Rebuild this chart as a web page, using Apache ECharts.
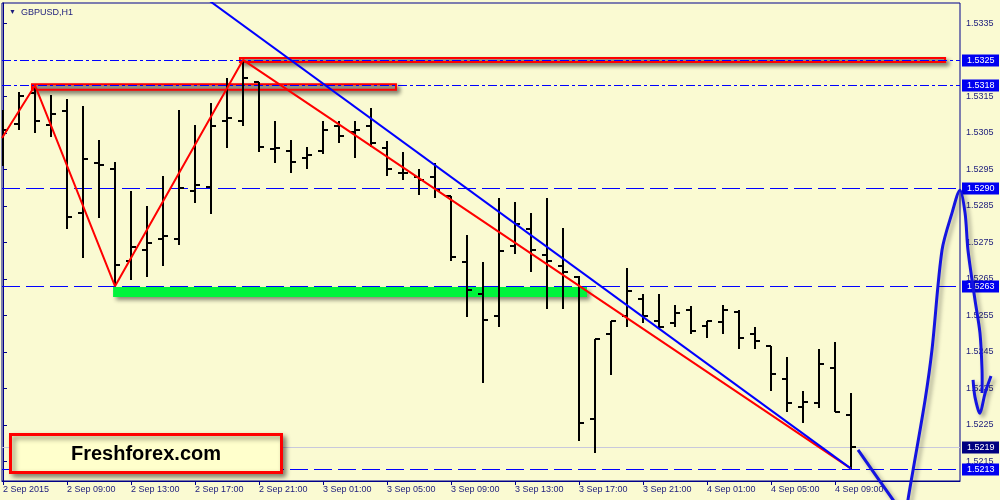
<!DOCTYPE html>
<html>
<head>
  <meta charset="utf-8">
</head>
<body style="margin: 0; background: #fafad2">
  <div id="container" style="width: 1000px; height: 500px"></div>

  <script type="text/javascript" src="https://cdn.jsdelivr.net/npm/echarts@6/dist/echarts.min.js"></script>

  <script type="text/javascript">
    // GBPUSD H1, one bar per hour from 2 Sep 05:00 (index 0) to 4 Sep 10:00 (index 53)
    var opens = [
      1.53031, 1.53075, 1.53160, 1.53072, 1.53110, 1.52830, 1.52967, 1.52951, 1.52699, 1.52729,
      1.52759, 1.52759, 1.52891, 1.52902, 1.53083, 1.53083, 1.53190, 1.53006, 1.53000, 1.52981,
      1.53000, 1.53069, 1.53052, 1.53069, 1.53009, 1.52940, 1.52929, 1.52929, 1.52877, 1.52696,
      1.52608, 1.52548, 1.52740, 1.52787, 1.52715, 1.52685, 1.52655, 1.52266, 1.52499, 1.52548,
      1.52595, 1.52534, 1.52529, 1.52565, 1.52521, 1.52532, 1.52559, 1.52499, 1.52466, 1.52376,
      1.52299, 1.52310, 1.52406, 1.52277
    ];
    var highs = [
      1.53113, 1.53162, 1.53180, 1.53154, 1.53143, 1.53124, 1.53031, 1.52970, 1.52891, 1.52850,
      1.52932, 1.53113, 1.53072, 1.53132, 1.53201, 1.53250, 1.53190, 1.53083, 1.53031, 1.53011,
      1.53083, 1.53083, 1.53083, 1.53118, 1.53028, 1.52998, 1.52951, 1.52967, 1.52877, 1.52770,
      1.52696, 1.52871, 1.52861, 1.52830, 1.52871, 1.52789, 1.52658, 1.52485, 1.52534, 1.52680,
      1.52608, 1.52608, 1.52578, 1.52576, 1.52534, 1.52578, 1.52565, 1.52518, 1.52466, 1.52436,
      1.52343, 1.52458, 1.52477, 1.52337
    ];
    var lows = [
      1.52959, 1.53058, 1.53050, 1.53039, 1.52787, 1.52707, 1.52817, 1.52630, 1.52647, 1.52655,
      1.52685, 1.52743, 1.52858, 1.52828, 1.53009, 1.53069, 1.52998, 1.52967, 1.52940, 1.52951,
      1.52992, 1.53022, 1.52981, 1.53011, 1.52932, 1.52921, 1.52880, 1.52871, 1.52699, 1.52545,
      1.52365, 1.52518, 1.52718, 1.52669, 1.52567, 1.52567, 1.52206, 1.52173, 1.52387, 1.52518,
      1.52529, 1.52515, 1.52518, 1.52499, 1.52488, 1.52499, 1.52458, 1.52458, 1.52343, 1.52285,
      1.52255, 1.52296, 1.52285, 1.52130
    ];
    var closes = [
      1.53058, 1.53151, 1.53083, 1.53102, 1.52819, 1.52978, 1.52962, 1.52688, 1.52737, 1.52748,
      1.52767, 1.52899, 1.52907, 1.53069, 1.53091, 1.53201, 1.53011, 1.53009, 1.52970, 1.52989,
      1.53058, 1.53042, 1.53058, 1.53022, 1.52951, 1.52940, 1.52921, 1.52893, 1.52710, 1.52619,
      1.52537, 1.52726, 1.52800, 1.52729, 1.52699, 1.52669, 1.52255, 1.52485, 1.52534, 1.52617,
      1.52548, 1.52518, 1.52556, 1.52507, 1.52534, 1.52565, 1.52488, 1.52480, 1.52389, 1.52310,
      1.52313, 1.52417, 1.52285, 1.52190
    ];

    var timeTicks = [0, 4, 8, 12, 16, 20, 24, 28, 32, 36, 40, 44, 48, 52];
    var timeLabels = [
      '2 Sep 2015', '2 Sep 09:00', '2 Sep 13:00', '2 Sep 17:00', '2 Sep 21:00',
      '3 Sep 01:00', '3 Sep 05:00', '3 Sep 09:00', '3 Sep 13:00', '3 Sep 17:00',
      '3 Sep 21:00', '4 Sep 01:00', '4 Sep 05:00', '4 Sep 09:00'
    ];
    var priceTicks = [
      1.5215, 1.5225, 1.5235, 1.5245, 1.5255, 1.5265, 1.5275,
      1.5285, 1.5295, 1.5305, 1.5315, 1.5325, 1.5335
    ];

    // horizontal levels drawn on the chart
    var dashDotLevels = [1.5325, 1.5318];
    var dashLevels = [1.5290, 1.5263, 1.5213];
    var bidPrice = 1.5219;

    // zones: [fromBar, toBar, upperPrice, lowerPrice]
    var resistanceZones = [
      [14.81, 58.88, 1.53255, 1.53244],
      [1.81, 24.56, 1.53183, 1.53168]
    ];
    var supportZone = [6.88, 36.5, 1.52628, 1.52600];

    // zigzag turning points (bar index) and trend line
    var zigzagStart = [-0.0625, 1.53036];
    var zigzagPivots = [2, 7, 15, 53];
    var trendLine = [[12, 1.53441], [53, 1.52130]];

    // hand-drawn forecast arrow (bar index, price)
    var forecastDown = [[53.44, 1.52181], [55.63, 1.52044], [56.25, 1.52006]];
    var forecastUp = [
      [56.45, 1.52006], [56.56, 1.52044], [56.88, 1.52126], [57.63, 1.52318], [58.06, 1.52455],
      [58.69, 1.52729], [59.31, 1.52830], [59.81, 1.52893], [60.13, 1.52830], [60.31, 1.52729],
      [60.75, 1.52592], [61.06, 1.52502], [61.19, 1.52400], [61.19, 1.52337]
    ];
    var arrowHead = [[60.63, 1.52373], [60.75, 1.52326], [61.06, 1.52282], [61.38, 1.52337], [61.75, 1.52384]];

    var xMin = -0.0625, xMax = 59.8125;
    var yMin = 1.52096, yMax = 1.53406;

    var bars = opens.map(function (o, i) {
      return [i, o, highs[i], lows[i], closes[i]];
    });

    var zigzag = [zigzagStart];
    zigzagPivots.forEach(function (i, k) {
      zigzag.push([i, k % 2 === 0 ? highs[i] : lows[i]]);
    });

    var axisColor = '#00008b';
    var textColor = '#1c1c7c';
    var fontFamily = 'Liberation Sans';
    var levelBlue = '#0000ff';

    // level styles: dash pattern, line colour, price tag colour
    var levelStyles = [
      { dash: [9, 3, 3, 3], color: levelBlue, tag: '#0000f0' },
      { dash: [18, 6], color: levelBlue, tag: '#0000f0' },
      { dash: null, color: '#c8c8dc', tag: '#000080' }
    ];
    var levelRows = [];
    dashDotLevels.forEach(function (v) { levelRows.push([v, 0]); });
    dashLevels.forEach(function (v) { levelRows.push([v, 1]); });
    levelRows.push([bidPrice, 2]);

    var zoneShadow = { shadowBlur: 4, shadowColor: 'rgba(0,0,0,0.45)', shadowOffsetX: 3, shadowOffsetY: 3 };
    var zoneData = resistanceZones.map(function (z) {
      return [
        { coord: [z[0], z[2]], itemStyle: Object.assign({ color: '#a8a898', borderColor: '#ff0000', borderWidth: 2 }, zoneShadow) },
        { coord: [z[1], z[3]] }
      ];
    });
    zoneData.push([
      { coord: [supportZone[0], supportZone[2]], itemStyle: Object.assign({ color: '#00f43c', borderWidth: 0 }, zoneShadow) },
      { coord: [supportZone[1], supportZone[3]] }
    ]);

    // free-hand strokes, projected through the axes inside one custom item
    var penStrokes = [forecastDown, forecastUp, arrowHead];

    var dom = document.getElementById('container');
    var myChart = echarts.init(dom, null, { renderer: 'canvas' });

    var option = {
      animation: false,
      backgroundColor: '#fafad2',
      title: [
        {
          text: '{tri|▼}  GBPUSD,H1',
          left: 4,
          top: 3,
          textStyle: {
            fontSize: 9, fontWeight: 'normal', color: textColor, fontFamily: fontFamily,
            rich: { tri: { fontSize: 7, color: textColor } }
          }
        },
        {
          text: 'Freshforex.com',
          left: 10,
          top: 434,
          backgroundColor: '#ffffcc',
          borderColor: '#ff0000',
          borderWidth: 3,
          padding: [10, 61, 9, 61],
          shadowBlur: 5,
          shadowColor: 'rgba(0,0,0,0.45)',
          shadowOffsetX: 3,
          shadowOffsetY: 3,
          textStyle: { fontSize: 20, fontWeight: 'bold', color: '#000', fontFamily: fontFamily }
        }
      ],
      grid: {
        left: 2, right: 40, top: 3, bottom: 19,
        show: true, borderColor: axisColor, borderWidth: 1, backgroundColor: 'transparent'
      },
      xAxis: {
        type: 'value',
        min: xMin,
        max: xMax,
        splitLine: { show: false },
        axisLine: { show: true, lineStyle: { color: axisColor } },
        axisTick: { show: true, length: 4, customValues: timeTicks, lineStyle: { color: axisColor } },
        axisLabel: {
          customValues: timeTicks,
          align: 'left',
          margin: 4,
          color: textColor,
          fontSize: 9,
          fontFamily: fontFamily,
          formatter: function (v) { return timeLabels[timeTicks.indexOf(Math.round(v))]; }
        }
      },
      yAxis: {
        type: 'value',
        position: 'right',
        min: yMin,
        max: yMax,
        splitLine: { show: false },
        axisLine: { show: true, lineStyle: { color: axisColor } },
        axisTick: { show: true, length: 4, customValues: priceTicks, lineStyle: { color: axisColor } },
        axisLabel: {
          customValues: priceTicks,
          margin: 6,
          color: textColor,
          fontSize: 9,
          fontFamily: fontFamily,
          formatter: function (v) { return v.toFixed(4); }
        }
      },
      series: [
        {
          name: 'levels',
          type: 'custom',
          z: 2,
          clip: false,
          silent: true,
          data: levelRows,
          encode: { y: 0 },
          renderItem: function (params, api) {
            var v = api.value(0);
            var s = levelStyles[api.value(1)];
            var a = api.coord([xMin, v]);
            var b = api.coord([xMax, v]);
            var y = Math.round(a[1]) + 0.5;
            return {
              type: 'group',
              children: [
                {
                  type: 'line',
                  shape: { x1: a[0], y1: y, x2: b[0], y2: y },
                  style: { stroke: s.color, lineWidth: 1, lineDash: s.dash }
                },
                {
                  type: 'rect',
                  shape: { x: b[0] + 2, y: y - 6, width: 37, height: 12 },
                  style: { fill: s.tag }
                },
                {
                  type: 'text',
                  x: b[0] + 7,
                  y: y,
                  style: {
                    text: v.toFixed(4), fill: '#fff', fontSize: 9, fontFamily: fontFamily,
                    verticalAlign: 'middle', align: 'left'
                  }
                }
              ]
            };
          }
        },
        {
          name: 'GBPUSD',
          type: 'custom',
          z: 3,
          clip: true,
          data: bars,
          encode: { x: 0, y: [1, 2, 3, 4] },
          renderItem: function (params, api) {
            var i = api.value(0);
            var hi = api.coord([i, api.value(2)]);
            var lo = api.coord([i, api.value(3)]);
            var op = api.coord([i, api.value(1)]);
            var cl = api.coord([i, api.value(4)]);
            var cx = Math.round(hi[0]);
            var st = { stroke: '#000', lineWidth: 2 };
            return {
              type: 'group',
              children: [
                { type: 'line', shape: { x1: cx, y1: Math.round(hi[1]), x2: cx, y2: Math.round(lo[1]) }, style: st },
                { type: 'line', shape: { x1: cx - 5, y1: Math.round(op[1]), x2: cx, y2: Math.round(op[1]) }, style: st },
                { type: 'line', shape: { x1: cx, y1: Math.round(cl[1]), x2: cx + 5, y2: Math.round(cl[1]) }, style: st }
              ]
            };
          }
        },
        {
          name: 'zigzag',
          type: 'line',
          z: 4,
          data: zigzag,
          showSymbol: false,
          silent: true,
          lineStyle: { color: '#ff0000', width: 2 }
        },
        {
          name: 'trend',
          type: 'line',
          z: 4,
          data: trendLine,
          showSymbol: false,
          silent: true,
          lineStyle: { color: '#0000ff', width: 2 },
          markArea: { silent: true, z: 1, data: zoneData }
        },
        {
          name: 'forecast',
          type: 'custom',
          z: 5,
          clip: false,
          silent: true,
          data: [[53, 1.522]],
          renderItem: function (params, api) {
            return {
              type: 'group',
              children: penStrokes.map(function (stroke) {
                return {
                  type: 'polyline',
                  shape: { points: stroke.map(function (p) { return api.coord(p); }), smooth: 0.3 },
                  style: {
                    fill: null, stroke: '#1414e0', lineWidth: 3,
                    shadowBlur: 4, shadowColor: 'rgba(0,0,0,0.35)', shadowOffsetX: 3, shadowOffsetY: 3
                  }
                };
              })
            };
          }
        }
      ]
    };

    myChart.setOption(option);
    window.addEventListener('resize', myChart.resize);
  </script>
</body>
</html>
